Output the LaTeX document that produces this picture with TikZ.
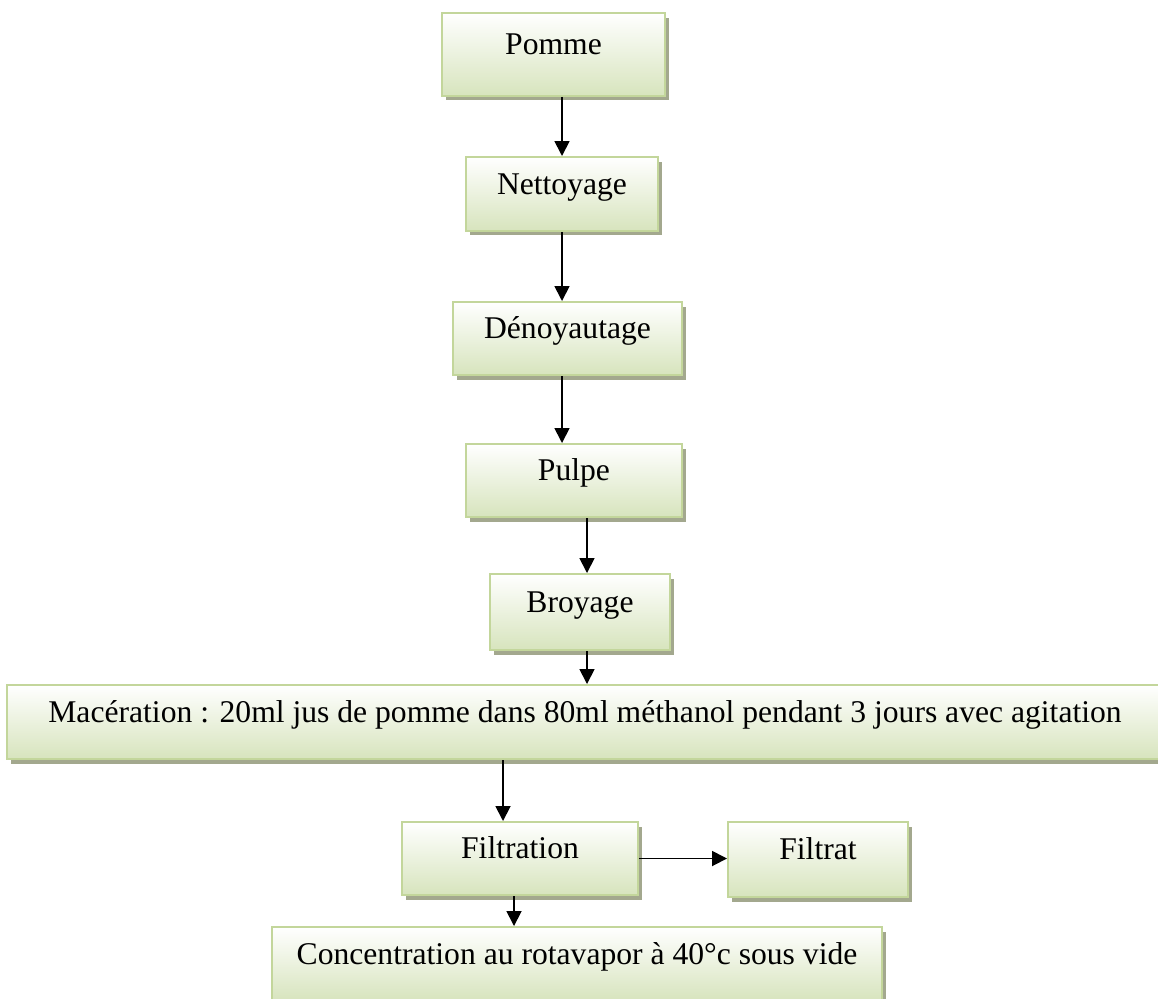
\documentclass[tikz,border=0pt]{standalone}
\usepackage{fontspec}
\setmainfont{Liberation Serif}
\usetikzlibrary{arrows.meta,shadows,calc}

\definecolor{bordure}{HTML}{C3D69B}
\definecolor{vertclair}{HTML}{D7E4BD}
\definecolor{ombre}{HTML}{A3A88E}

\tikzset{
	etape/.style={draw=bordure, line width=0.04cm, top color=white, bottom color=vertclair,
		drop shadow={shadow xshift=0.08cm, shadow yshift=-0.09cm, fill=ombre, opacity=1},
		inner sep=0pt, text height=0.45cm, text depth=0.45cm,
		font=\fontsize{18}{21}\selectfont},
	fleche/.style={line width=0.035cm, -{Triangle[width=0.3cm,length=0.3cm]}}
}

\begin{document}
\begin{tikzpicture}[x=0.02cm, y=-0.02cm]
	\useasboundingbox (0,0) rectangle (1158,998);
	
	% etapes
	\node[etape, minimum width=4.46cm, minimum height=1.66cm] (pomme) at (553.5,54.5) {Pomme};
	\node[etape, minimum width=3.84cm, minimum height=1.48cm] (nettoyage) at (562,194) {Nettoyage};
	\node[etape, minimum width=4.58cm, minimum height=1.46cm] (denoyautage) at (567.5,338.5) {Dénoyautage};
	\node[etape, minimum width=4.32cm, minimum height=1.46cm] (pulpe) at (574,480.5) {Pulpe};
	\node[etape, minimum width=3.6cm, minimum height=1.52cm] (broyage) at (580,612) {Broyage};
	\node[etape, minimum width=23.12cm, minimum height=1.48cm] (maceration) at (585,722)
		{Macération : 20ml jus de pomme dans 80ml méthanol pendant 3 jours avec agitation};
	\node[etape, minimum width=4.72cm, minimum height=1.46cm] (filtration) at (520,858.5) {Filtration};
	\node[etape, minimum width=3.6cm, minimum height=1.5cm] (filtrat) at (818,859.5) {Filtrat};
	\node[etape, minimum width=12.2cm, minimum height=1.48cm] (concentration) at (577,964)
		{Concentration au rotavapor à 40°c sous vide};
	
	% fleches
	\coordinate (p-pulpe) at ([xshift=0.26cm]pulpe.south);
	\coordinate (p-broyage) at ([xshift=0.14cm]broyage.south);
	\coordinate (p-filtration) at ([xshift=-0.34cm]filtration.north);
	\coordinate (p-conc) at ([xshift=-0.12cm]filtration.south);
	
	\draw[fleche] (pomme.south -| nettoyage.north) -- (nettoyage.north);
	\draw[fleche] (nettoyage.south) -- (nettoyage.south |- denoyautage.north);
	\draw[fleche] (denoyautage.south -| nettoyage.south) -- (pulpe.north -| nettoyage.south);
	\draw[fleche] (p-pulpe) -- (p-pulpe |- broyage.north);
	\draw[fleche] (p-broyage) -- (p-broyage |- maceration.north);
	\draw[fleche] (p-filtration |- maceration.south) -- (p-filtration);
	\draw[fleche] (filtration.east) -- (filtration.east -| filtrat.west);
	\draw[fleche] (p-conc) -- (p-conc |- concentration.north);
\end{tikzpicture}
\end{document}
